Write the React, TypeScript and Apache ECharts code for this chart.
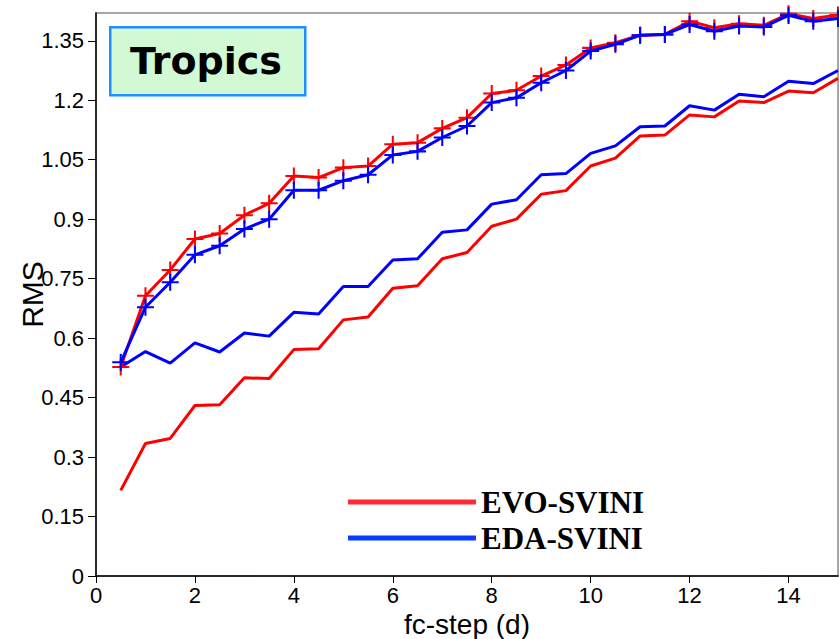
import React, { useEffect, useRef } from "react";
import * as echarts from "echarts";

const steps = [0.5, 1, 1.5, 2, 2.5, 3, 3.5, 4, 4.5, 5, 5.5, 6, 6.5, 7, 7.5, 8, 8.5, 9, 9.5, 10, 10.5, 11, 11.5, 12, 12.5, 13, 13.5, 14, 14.5, 15];

// upper curves (with + markers)
const evoUpper = [0.527, 0.707, 0.772, 0.850, 0.864, 0.910, 0.940, 1.009, 1.005, 1.030, 1.034, 1.089, 1.093, 1.129, 1.156, 1.217, 1.225, 1.261, 1.289, 1.332, 1.345, 1.364, 1.366, 1.399, 1.383, 1.393, 1.389, 1.418, 1.406, 1.415];
const edaUpper = [0.539, 0.678, 0.741, 0.810, 0.833, 0.875, 0.900, 0.973, 0.973, 0.997, 1.012, 1.062, 1.071, 1.106, 1.135, 1.194, 1.206, 1.244, 1.275, 1.324, 1.341, 1.364, 1.366, 1.391, 1.374, 1.387, 1.385, 1.414, 1.399, 1.406];

// lower curves (no markers)
const evoLower = [0.216, 0.334, 0.347, 0.430, 0.432, 0.500, 0.498, 0.571, 0.573, 0.646, 0.653, 0.726, 0.732, 0.800, 0.816, 0.882, 0.900, 0.963, 0.972, 1.034, 1.054, 1.110, 1.112, 1.163, 1.158, 1.198, 1.194, 1.223, 1.219, 1.255];
const edaLower = [0.527, 0.566, 0.537, 0.588, 0.565, 0.613, 0.605, 0.665, 0.661, 0.730, 0.730, 0.797, 0.800, 0.867, 0.873, 0.938, 0.949, 1.012, 1.015, 1.066, 1.085, 1.133, 1.135, 1.186, 1.175, 1.215, 1.209, 1.248, 1.242, 1.275];

const seriesNames = ["EVO-SVINI", "EDA-SVINI"];
const panelTitle = "Tropics";

const plus = "path://M-1.2,-10L1.2,-10L1.2,-1.2L10,-1.2L10,1.2L1.2,1.2L1.2,10L-1.2,10L-1.2,1.2L-10,1.2L-10,-1.2L-1.2,-1.2Z";

const zip = (ys: number[]) => steps.map((x, i) => [x, ys[i]]);

export default function App() {
  const ref = useRef<HTMLDivElement>(null);
  useEffect(() => {
    if (!ref.current) return;
    const chart = echarts.init(ref.current, null, { renderer: "svg" });
    const font = "'Liberation Sans', Arial, sans-serif";
    chart.setOption({
      animation: false,
      backgroundColor: "#ffffff",
      grid: {
        left: 96,
        right: 1,
        top: 13,
        bottom: 63,
        show: true,
        borderColor: "#8a8a8a",
        borderWidth: 1.5,
        outerBoundsMode: "none",
        containLabel: false,
      },
      xAxis: {
        type: "value",
        min: 0,
        max: 15,
        interval: 2,
        name: "fc-step (d)",
        nameLocation: "middle",
        nameGap: 34,
        nameMoveOverlap: false,
        nameTextStyle: { fontFamily: font, fontSize: 28, color: "#000" },
        axisLine: { show: true, onZero: false, lineStyle: { color: "#000", width: 1.5 } },
        axisTick: { show: true, length: 7, lineStyle: { color: "#000" } },
        axisLabel: { fontFamily: font, fontSize: 22, color: "#000", margin: 8, showMaxLabel: false },
        splitLine: { show: false },
      },
      yAxis: {
        type: "value",
        min: 0,
        max: 1.42,
        interval: 0.15,
        name: "RMS",
        nameLocation: "middle",
        nameGap: 49,
        nameMoveOverlap: false,
        nameTextStyle: { fontFamily: font, fontSize: 30, color: "#000" },
        axisLine: { show: true, onZero: false, lineStyle: { color: "#000", width: 1.5 } },
        axisTick: { show: true, length: 8, lineStyle: { color: "#000" } },
        axisLabel: {
          fontFamily: font,
          fontSize: 22,
          color: "#000",
          margin: 12,
          showMaxLabel: false,
          formatter: (v: number) => String(+v.toFixed(2)),
        },
        splitLine: { show: false },
      },
      legend: {
        orient: "vertical",
        left: 343,
        top: 481,
        icon: "rect",
        itemWidth: 128,
        itemHeight: 5,
        itemGap: 4,
        selectedMode: false,
        textStyle: {
          fontFamily: "'Liberation Serif', 'Times New Roman', serif",
          fontWeight: "bold",
          fontSize: 31,
          color: "#000",
          lineHeight: 32,
        },
        data: [
          { name: seriesNames[0], itemStyle: { color: "#ff2a36" } },
          { name: seriesNames[1], itemStyle: { color: "#0a3cff" } },
        ],
      },
      graphic: [
        {
          type: "rect",
          left: 109,
          top: 26,
          shape: { width: 195, height: 68 },
          style: { fill: "#d1f9d3", stroke: "#1e90ff", lineWidth: 2.5 },
          z: 10,
        },
        {
          type: "text",
          x: 206,
          y: 61,
          style: {
            text: panelTitle,
            fontFamily: "'DejaVu Sans', Verdana, sans-serif",
            fontWeight: "bold",
            fontSize: 38,
            fill: "#000",
            align: "center",
            verticalAlign: "middle",
          },
          z: 11,
        },
      ],
      series: [
        {
          name: seriesNames[0],
          type: "line",
          data: zip(evoLower),
          showSymbol: false,
          symbol: "none",
          lineStyle: { color: "#ff0000", width: 3 },
          itemStyle: { color: "#ff0000" },
          z: 2,
        },
        {
          name: seriesNames[1],
          type: "line",
          data: zip(edaLower),
          showSymbol: false,
          symbol: "none",
          lineStyle: { color: "#0000ff", width: 3 },
          itemStyle: { color: "#0000ff" },
          z: 3,
        },
        {
          name: seriesNames[0],
          type: "line",
          data: zip(evoUpper),
          symbol: plus,
          symbolSize: 17,
          lineStyle: { color: "#ff0000", width: 3 },
          itemStyle: { color: "#ff0000" },
          z: 4,
        },
        {
          name: seriesNames[1],
          type: "line",
          data: zip(edaUpper),
          symbol: plus,
          symbolSize: 17,
          lineStyle: { color: "#0000ff", width: 3 },
          itemStyle: { color: "#0000ff" },
          z: 5,
        },
      ],
    });
    return () => chart.dispose();
  }, []);
  return <div ref={ref} style={{ width: 839, height: 639, position: "absolute", left: 0, top: 0 }} />;
}
